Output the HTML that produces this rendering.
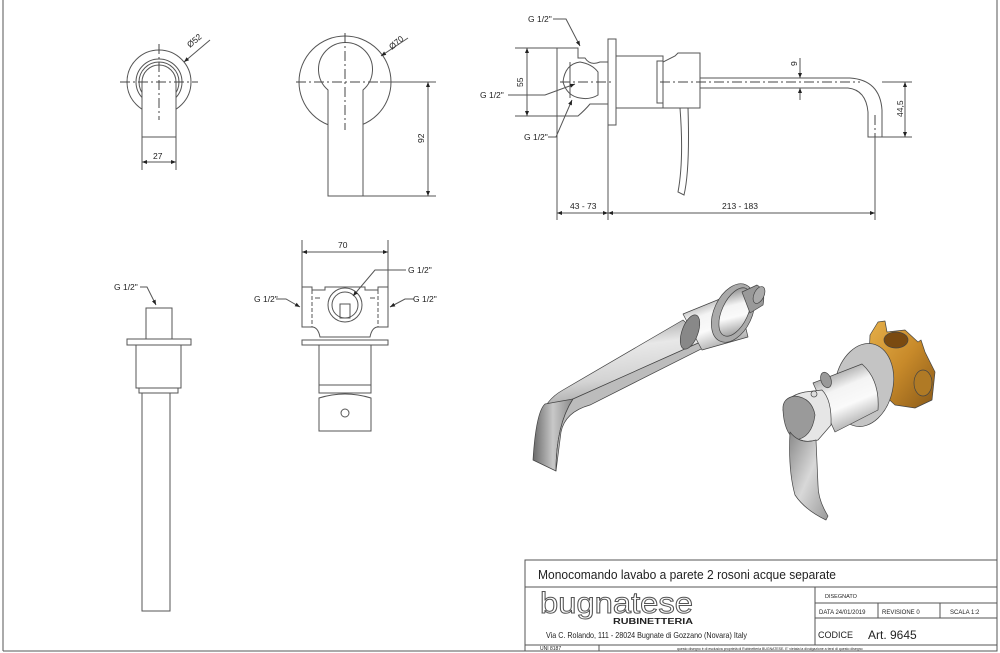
<!DOCTYPE html>
<html><head><meta charset="utf-8"><style>
html,body{margin:0;padding:0;background:#fff;}
svg{display:block;}
text{font-family:"Liberation Sans",sans-serif;fill:#222;}
</style></head><body>
<svg width="1000" height="653" viewBox="0 0 1000 653" xmlns="http://www.w3.org/2000/svg">
<defs>
<marker id="a" viewBox="0 0 10 10" refX="10" refY="5" markerWidth="7" markerHeight="5" orient="auto-start-reverse"><path d="M0,1 L10,5 L0,9 z" fill="#222"/></marker>
<linearGradient id="chrome" x1="0.3" y1="0" x2="0.5" y2="1"><stop offset="0" stop-color="#9a9a9a"/><stop offset=".3" stop-color="#e8e8e8"/><stop offset=".6" stop-color="#d4d4d4"/><stop offset="1" stop-color="#8a8a8a"/></linearGradient>
<linearGradient id="front" x1="0" y1="0" x2="1" y2="0"><stop offset="0" stop-color="#6a6a6a"/><stop offset=".5" stop-color="#c8c8c8"/><stop offset="1" stop-color="#8a8a8a"/></linearGradient>
<linearGradient id="cyl" x1="0.3" y1="0" x2="0.7" y2="1"><stop offset="0" stop-color="#8a8a8a"/><stop offset=".35" stop-color="#f4f4f4"/><stop offset=".6" stop-color="#fafafa"/><stop offset="1" stop-color="#9a9a9a"/></linearGradient>
<linearGradient id="lever" x1="0" y1="0" x2="1" y2="1"><stop offset="0" stop-color="#8a8a8a"/><stop offset=".5" stop-color="#d8d8d8"/><stop offset="1" stop-color="#9a9a9a"/></linearGradient>
<linearGradient id="brass" x1="0" y1="0" x2="1" y2="1"><stop offset="0" stop-color="#e6b04a"/><stop offset=".5" stop-color="#c88a2a"/><stop offset="1" stop-color="#8a5a18"/></linearGradient>
</defs>
<g fill="none" stroke="#555" stroke-width="1">
<line x1="3" y1="0" x2="3" y2="651"/>
<line x1="3" y1="651" x2="997" y2="651"/>
<line x1="997" y1="0" x2="997" y2="651"/>

<circle cx="159" cy="82" r="32"/>
<circle cx="159" cy="82" r="23"/>
<circle cx="159" cy="82" r="20"/>
<path d="M142,137 V82 A17,17 0 0 1 176,82 V137 Z" fill="#fff"/>
<g stroke-dasharray="10,3,2,3" stroke="#444"><line x1="120" y1="82" x2="198" y2="82"/><line x1="159" y1="44" x2="159" y2="120"/></g>
<line x1="142" y1="137" x2="142" y2="170"/><line x1="176" y1="137" x2="176" y2="170"/>
<line x1="142" y1="162" x2="176" y2="162" marker-start="url(#a)" marker-end="url(#a)"/>
<line x1="210" y1="40" x2="184" y2="62" marker-end="url(#a)"/>

<circle cx="345" cy="82" r="46"/>
<path d="M328,196 V90 A27,27 0 1 1 363,90 V196 Z" fill="#fff"/>
<g stroke-dasharray="10,3,2,3" stroke="#444"><line x1="296" y1="82" x2="400" y2="82"/><line x1="345" y1="33" x2="345" y2="130"/></g>
<line x1="380" y1="82" x2="436" y2="82"/><line x1="363" y1="196" x2="436" y2="196"/>
<line x1="428" y1="82" x2="428" y2="196" marker-start="url(#a)" marker-end="url(#a)"/>
<line x1="408" y1="38" x2="381" y2="56" marker-end="url(#a)"/>

<rect x="608" y="39" width="8" height="86"/>
<path d="M557,48 H578 V58 H585 Q590,66 600,62 H608 V104 H590 Q585,110 578,116 H557 Z"/>
<path d="M563,82 Q565,64 580,62 Q592,64 598,72 V95 Q590,100 580,98 Q567,96 563,82 Z"/>
<line x1="570" y1="62" x2="570" y2="98"/>
<rect x="616" y="56" width="47" height="52"/>
<rect x="657" y="61" width="6" height="42"/>
<path d="M663,108 V62 L675,56 L678,53 H700 V108 Z"/>
<path d="M700,78 H850 Q880,80 882,110 V137 H868 V112 Q866,90 848,88 H700"/>
<path d="M688,108 Q690,170 684,195 L678,192 Q684,160 680,108"/>
<g stroke-dasharray="10,3,2,3" stroke="#444"><line x1="560" y1="82" x2="612" y2="82"/><line x1="660" y1="82" x2="860" y2="82"/><line x1="875" y1="115" x2="875" y2="137"/></g>
<line x1="557" y1="48" x2="515" y2="48"/><line x1="557" y1="116" x2="515" y2="116"/>
<line x1="527" y1="48" x2="527" y2="116" marker-start="url(#a)" marker-end="url(#a)"/>
<line x1="800" y1="58" x2="800" y2="78" marker-end="url(#a)"/><line x1="800" y1="100" x2="800" y2="88" marker-end="url(#a)"/>
<line x1="882" y1="82" x2="912" y2="82"/><line x1="882" y1="137" x2="912" y2="137"/>
<line x1="905" y1="82" x2="905" y2="137" marker-start="url(#a)" marker-end="url(#a)"/>
<line x1="557" y1="116" x2="557" y2="220"/><line x1="608" y1="125" x2="608" y2="220"/><line x1="875" y1="137" x2="875" y2="220"/>
<line x1="557" y1="213" x2="608" y2="213" marker-start="url(#a)" marker-end="url(#a)"/>
<line x1="608" y1="213" x2="875" y2="213" marker-start="url(#a)" marker-end="url(#a)"/>
<path d="M553,19 H566 L580,46" marker-end="url(#a)"/>
<path d="M508,95 H545 L575,84" marker-end="url(#a)"/>
<path d="M548,137 H556 L572,100" marker-end="url(#a)"/>

<path d="M140,287 H147 L156,305" marker-end="url(#a)"/>
<rect x="146" y="308" width="26" height="31"/>
<rect x="127" y="339" width="64" height="6"/>
<rect x="136" y="345" width="45" height="43"/>
<rect x="139" y="388" width="39" height="5"/>
<rect x="142" y="393" width="28" height="218"/>

<line x1="302" y1="240" x2="302" y2="287"/><line x1="388" y1="240" x2="388" y2="287"/>
<line x1="302" y1="252" x2="388" y2="252" marker-start="url(#a)" marker-end="url(#a)"/>
<path d="M302,287 H312 V290 H325 V287 H365 V290 H378 V287 H388 V327 H378 Q372,327 370,337 H320 Q318,327 312,327 H302 Z"/>
<line x1="312" y1="290" x2="312" y2="327" stroke-dasharray="4,2"/><line x1="378" y1="290" x2="378" y2="327" stroke-dasharray="4,2"/>
<line x1="315" y1="298" x2="320" y2="298"/><line x1="370" y1="298" x2="375" y2="298"/>
<circle cx="345" cy="305" r="17"/><circle cx="345" cy="305" r="13"/>
<rect x="340" y="304" width="10" height="14"/>
<rect x="302" y="340" width="86" height="5"/>
<rect x="319" y="345" width="52" height="48"/>
<line x1="319" y1="385" x2="371" y2="385"/>
<path d="M319,431 V398 Q345,390 371,398 V431 Z"/>
<circle cx="345" cy="413" r="4"/>
<path d="M406,270 H375 L353,296" marker-end="url(#a)"/>
<path d="M276,299 H286 L300,307" marker-end="url(#a)"/>
<path d="M414,299 H405 L390,307" marker-end="url(#a)"/>

<rect x="525" y="560" width="472" height="91"/>
<line x1="525" y1="587" x2="997" y2="587"/>
<line x1="815" y1="587" x2="815" y2="645"/>
<line x1="815" y1="603" x2="997" y2="603"/>
<line x1="815" y1="618" x2="997" y2="618"/>
<line x1="878" y1="603" x2="878" y2="618"/><line x1="940" y1="603" x2="940" y2="618"/>
<line x1="525" y1="645" x2="997" y2="645"/>
<line x1="599" y1="645" x2="599" y2="651"/>
</g>

<!-- 3D spout -->
<g stroke="#444" stroke-width="0.7" stroke-linejoin="round">
<path d="M683,320 L563,390 Q545,400 541,418 L573,399 L705,340 Z" fill="url(#chrome)"/>
<path d="M545,404 Q536,412 533,460 L556,471 Q556,425 573,399 Z" fill="url(#front)"/>
<path d="M573,399 L705,340 L705,347 L590,405 Q565,412 561,432 L556,471 Q556,425 573,399 Z" fill="#bcbcbc"/>
<path d="M683,314 L737,292 L748,337 L702,350 Z" fill="url(#cyl)"/>
<ellipse cx="690" cy="332" rx="8" ry="18" fill="#888" transform="rotate(20 690 332)"/>
<ellipse cx="733" cy="313" rx="19" ry="31" fill="#aaa" transform="rotate(25 733 313)"/>
<ellipse cx="735" cy="312" rx="13" ry="26" fill="url(#cyl)" transform="rotate(25 735 312)"/>
<path d="M742,292 L757,285 Q766,290 763,305 L750,313 Z" fill="#999"/>
<ellipse cx="759" cy="295" rx="5" ry="9" fill="#aaa" transform="rotate(25 759 295)"/>
</g>
<!-- 3D mixer -->
<g stroke="#444" stroke-width="0.7" stroke-linejoin="round">
<path d="M878,322 L885,321 L887,332 L905,330 L918,342 L921,340 L925,352 L935,372 L932,400 L915,408 L895,405 L868,380 L870,335 Z" fill="url(#brass)"/>
<ellipse cx="896" cy="340" rx="12" ry="8" fill="#7a4a10"/>
<ellipse cx="923" cy="383" rx="9" ry="13" fill="#b07a25"/>
<ellipse cx="864" cy="385" rx="29" ry="42" fill="#c4c4c4" transform="rotate(12 864 385)"/>
<path d="M813,383 L862,364 Q880,380 878,410 L835,432 Z" fill="url(#cyl)"/>
<ellipse cx="826" cy="380" rx="5" ry="8" fill="#999" transform="rotate(-20 826 380)"/>
<path d="M783,410 Q785,396 805,392 L822,390 Q832,400 831,425 L818,440 Q800,445 790,432 Z" fill="#e6e6e6"/>
<path d="M783,410 Q782,398 795,396 Q812,398 815,415 Q812,438 795,440 Q784,432 783,410 Z" fill="#9a9a9a"/>
<path d="M790,432 Q788,470 795,495 Q805,510 826,520 L828,516 Q818,500 818,485 L816,440 Q800,445 790,432 Z" fill="url(#lever)"/>
<circle cx="814" cy="394" r="3" fill="#ddd"/>
</g>

<g font-size="8.5">
<text x="190" y="48" transform="rotate(-40 190 48)">Ø52</text>
<text x="392" y="50" transform="rotate(-40 392 50)">Ø70</text>
<text x="153" y="159">27</text>
<text x="424" y="143" transform="rotate(-90 424 143)">92</text>
<text x="528" y="22">G 1/2"</text>
<text x="480" y="98">G 1/2"</text>
<text x="524" y="140">G 1/2"</text>
<text x="523" y="87" transform="rotate(-90 523 87)">55</text>
<text x="797" y="66" transform="rotate(-90 797 66)">9</text>
<text x="903" y="117" transform="rotate(-90 903 117)">44,5</text>
<text x="570" y="209">43 - 73</text>
<text x="722" y="209">213 - 183</text>
<text x="114" y="290">G 1/2"</text>
<text x="338" y="248">70</text>
<text x="408" y="273">G 1/2"</text>
<text x="254" y="302">G 1/2"</text>
<text x="413" y="302">G 1/2"</text>
</g>
<text x="538" y="579" font-size="12.5" textLength="298" lengthAdjust="spacingAndGlyphs">Monocomando lavabo a parete 2 rosoni acque separate</text>
<text x="540" y="613" font-size="30" textLength="153" lengthAdjust="spacingAndGlyphs" style="fill:none;stroke:#555;stroke-width:1">bugnatese</text>
<text x="613" y="624" font-size="8" font-weight="bold" textLength="80" lengthAdjust="spacingAndGlyphs">RUBINETTERIA</text>
<text x="546" y="638" font-size="8.5" textLength="201" lengthAdjust="spacingAndGlyphs">Via C. Rolando, 111 - 28024 Bugnate di Gozzano (Novara) Italy</text>
<text x="825" y="598" font-size="5.5">DISEGNATO</text>
<text x="819" y="614" font-size="6">DATA   24/01/2019</text>
<text x="882" y="614" font-size="6">REVISIONE  0</text>
<text x="950" y="614" font-size="6">SCALA   1:2</text>
<text x="818" y="638" font-size="9">CODICE</text>
<text x="868" y="639" font-size="12">Art. 9645</text>
<text x="540" y="650" font-size="5">UNI 8187</text>
<text x="677" y="650" font-size="3.5">questo disegno è di esclusiva proprietà di Rubinetteria BUGNATESE. E' vietata la divulgazione a terzi di questo disegno</text>
</svg>
</body></html>
